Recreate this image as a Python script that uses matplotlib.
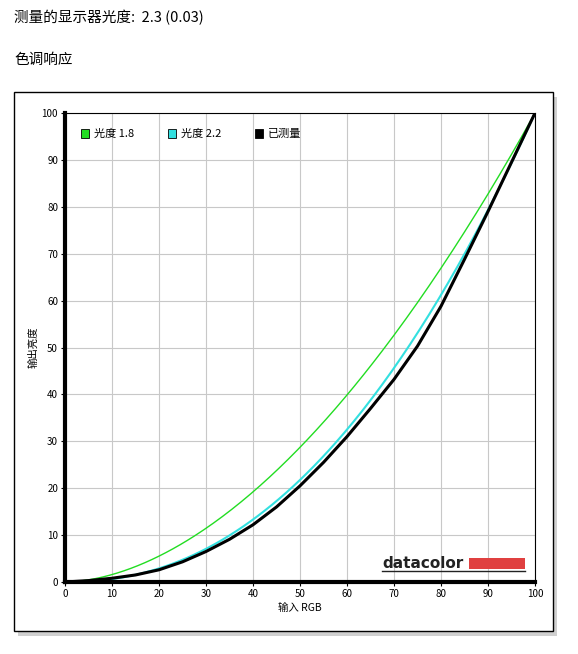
import matplotlib
matplotlib.use("Agg")
import matplotlib.pyplot as plt
import numpy as np
from matplotlib.patches import Rectangle

plt.rcParams['font.family'] = ['Noto Sans CJK SC', 'DejaVu Sans']

# data
gamma_values = [1.8, 2.2]
measured_x = [0, 5, 10, 15, 20, 25, 30, 35, 40, 45, 50, 55, 60, 65, 70, 75, 80, 85, 90, 95, 100]
measured_y = [0, 0.3, 0.8, 1.5, 2.6, 4.3, 6.5, 9.1, 12.2, 16.0, 20.5, 25.5, 31.0, 37.0, 43.2, 50.3, 58.8, 68.8, 79.0, 89.5, 100]
legend_labels = ["光度 1.8", "光度 2.2", "已测量"]
title_text = "测量的显示器光度:  2.3 (0.03)"
subtitle_text = "色调响应"

W, H = 578, 654
fig = plt.figure(figsize=(W / 100, H / 100), dpi=100)
fig.text(14 / W, 1 - 18 / H, title_text, fontsize=10.5, va='center')
fig.text(14 / W, 1 - 60 / H, subtitle_text, fontsize=10.5, va='center')

# outer box with soft shadow
fig.patches.append(Rectangle((18 / W, 1 - 636 / H), 539 / W, 539 / H, transform=fig.transFigure,
                             facecolor='#d0d0d0', edgecolor='none', zorder=0))
fig.patches.append(Rectangle((14 / W, 1 - 631 / H), 539 / W, 539 / H, transform=fig.transFigure,
                             facecolor='white', edgecolor='black', lw=1, zorder=1))

ax = fig.add_axes([65 / W, 1 - 582 / H, 470 / W, 469 / H])
ax.set_zorder(2)
xs = np.linspace(0, 100, 201)
ax.plot(xs, 100 * (xs / 100) ** gamma_values[0], color='#22dd22', lw=1)
ax.plot(xs, 100 * (xs / 100) ** gamma_values[1], color='#33e0e0', lw=1.5)
ax.plot(measured_x, measured_y, color='black', lw=2.2)

ax.set_xlim(0, 100)
ax.set_ylim(0, 100)
ax.set_xticks(range(0, 101, 10))
ax.set_yticks(range(0, 101, 10))
ax.grid(color='#c8c8c8', lw=0.8)
ax.tick_params(labelsize=7, length=3, pad=2)
for s in ['left', 'bottom']:
    ax.spines[s].set_linewidth(3)
ax.set_xlabel("输入 RGB", fontsize=7.5, labelpad=3)
ax.set_ylabel("输出亮度", fontsize=7.5, labelpad=2)

colors = ['#22dd22', '#33e0e0', 'black']
lx = [0.035, 0.22, 0.405]
for x, c, lab in zip(lx, colors, legend_labels):
    ax.add_patch(Rectangle((x * 100, 94.6), 1.6, 1.9, facecolor=c, edgecolor='black', lw=0.6, zorder=5))
    ax.text(x * 100 + 2.6, 95.5, lab, fontsize=8, va='center', zorder=5)

ax.text(67.5, 4.0, "datacolor", fontsize=11, fontweight='bold', color='#222222', va='center',
        family=['DejaVu Sans'], zorder=5)
ax.add_patch(Rectangle((86.0, 2.8), 11.8, 2.4, facecolor='#e04040', edgecolor='none', zorder=5))
ax.plot([67.5, 97.8], [2.3, 2.3], color='#222222', lw=1, zorder=5)

fig.savefig("out.png", dpi=100)
